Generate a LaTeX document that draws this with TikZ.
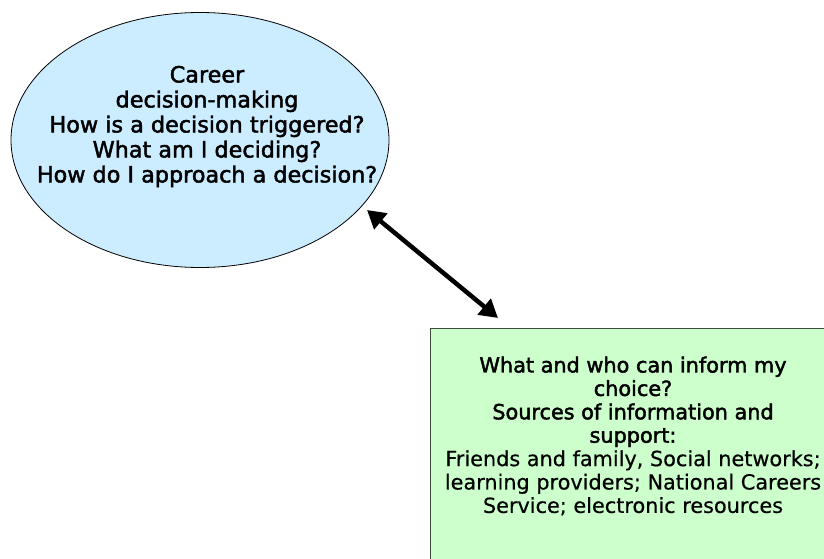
\documentclass[tikz,border=0pt]{standalone}
\usepackage{fontspec}
\setmainfont[FakeBold=0.5]{DejaVu Sans}
\newfontfamily\semibf[FakeBold=2]{DejaVu Sans}
\usetikzlibrary{shapes.geometric,arrows.meta}
\definecolor{ellfill}{RGB}{204,236,255}
\definecolor{boxfill}{RGB}{204,255,204}
\definecolor{boxline}{RGB}{60,75,60}
\tikzset{
  ellbox/.style={ellipse, draw=black, line width=0.8pt, fill=ellfill, minimum width=378pt, minimum height=255pt, inner sep=0pt},
  greenbox/.style={rectangle, draw=boxline, line width=1.2pt, fill=boxfill, minimum width=420pt, minimum height=280pt, inner sep=0pt, anchor=north west},
  elltext/.style={align=center, font=\fontsize{22.3}{25}\selectfont\semibf},
  boxtext/.style={align=center, font=\fontsize{20.8}{23.4}\selectfont},
  biarrow/.style={line width=4.5pt, {Triangle[length=18pt,width=20pt]}-{Triangle[length=18pt,width=20pt]}}
}
\begin{document}
\begin{tikzpicture}[x=1pt,y=-1pt]
\useasboundingbox (0,0) rectangle (824,559);
\clip (0,0) rectangle (824,559);
\fill[white] (0,0) rectangle (824,559);
\node[ellbox] (dm) at (200,140) {};
\node[elltext] (dmtext) at (207,126.5) {Career\\decision-making\\How is a decision triggered?\\What am I deciding?\\How do I approach a decision?};
\node[greenbox] (info) at (430,328) {};
\node[boxtext] (infotext) at (633,436) {{\semibf What and who can inform my}\\{\semibf choice?}\\{\semibf Sources of information and}\\{\semibf support:}\\Friends and family, Social networks;\\learning providers; National Careers\\Service; electronic resources};
\coordinate (a1) at (367,210);
\coordinate (a2) at (498,318);
\draw[biarrow] (a1) -- (a2);
\end{tikzpicture}
\end{document}
